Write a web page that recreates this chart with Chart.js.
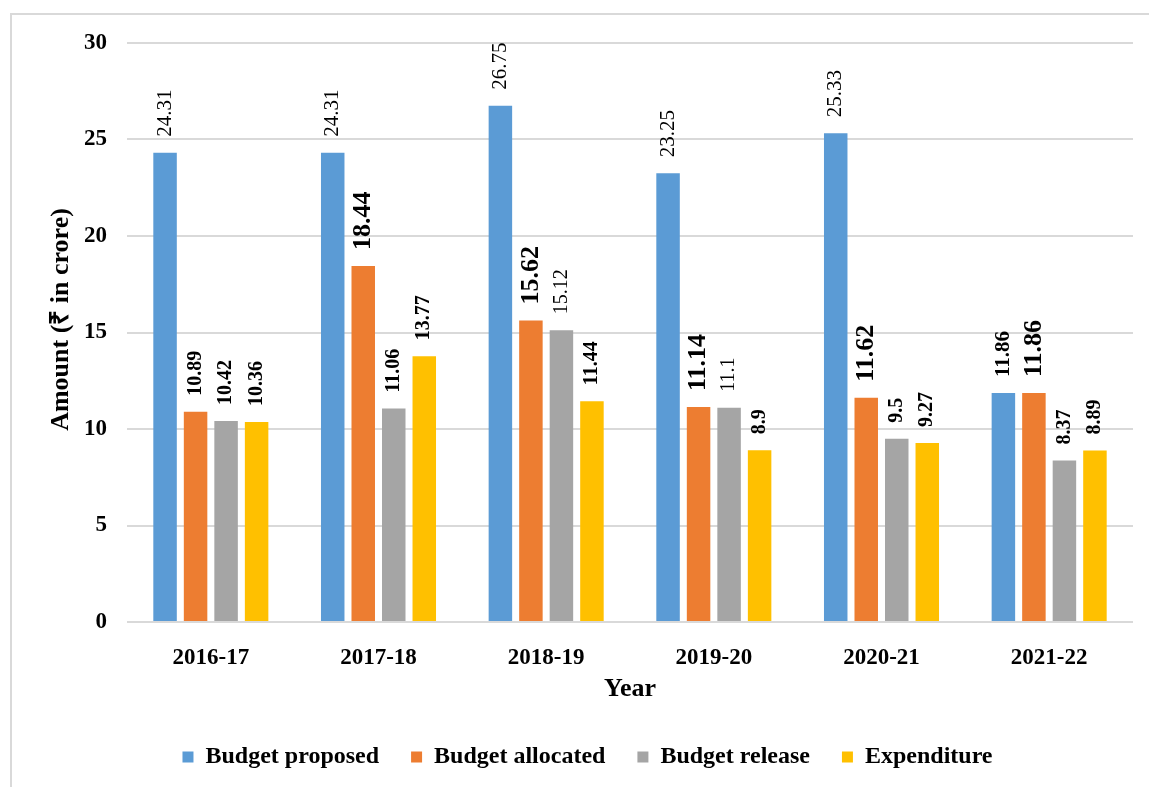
<!DOCTYPE html>
<html lang="en">
<head>
    <meta charset="UTF-8">
    <title>Budget vs Expenditure</title>
    <script src="https://cdn.jsdelivr.net/npm/chart.js"></script>
    <style>
        html, body { margin: 0; padding: 0; background: #fff; overflow: hidden; }
        #wrap { position: relative; width: 1149px; height: 787px; }
        #frame { position: absolute; left: 10px; top: 13px; width: 1200px; height: 900px; border: 2px solid #d9d9d9; box-sizing: border-box; }
        canvas { position: absolute; left: 0; top: 0; }
    </style>
</head>
<body>
<div id="wrap">
    <div id="frame"></div>
    <canvas id="budgetChart" width="1149" height="787"></canvas>
</div>

<script>
    // Data
    const years = ['2016-17', '2017-18', '2018-19', '2019-20', '2020-21', '2021-22'];
    const budgetProposed = [24.31, 24.31, 26.75, 23.25, 25.33, 11.86];
    const budgetAllocated = [10.89, 18.44, 15.62, 11.14, 11.62, 11.86];
    const budgetRelease = [10.42, 11.06, 15.12, 11.1, 9.5, 8.37];
    const expenditure = [10.36, 13.77, 11.44, 8.9, 9.27, 8.89];
    const yTicks = [0, 5, 10, 15, 20, 25, 30];
    const yTitle = 'Amount (₹ in crore)';

    const serif = '"Liberation Serif", "Times New Roman", serif';

    // label look per series (size, weight), kept apart from the values
    const labelStyle = [
        { size: [21, 21, 21, 21, 21, 21], weight: ['normal', 'normal', 'normal', 'normal', 'normal', 'bold'] },
        { size: [20, 26, 26, 26, 26, 26], weight: ['bold', 'bold', 'bold', 'bold', 'bold', 'bold'] },
        { size: [20, 20, 20, 20, 20, 20], weight: ['bold', 'bold', 'normal', 'normal', 'bold', 'bold'] },
        { size: [20, 20, 20, 20, 20, 20], weight: ['bold', 'bold', 'bold', 'bold', 'bold', 'bold'] }
    ];

    // rotated value labels above each bar
    const barLabels = {
        id: 'barLabels',
        afterDatasetsDraw(chart) {
            const ctx = chart.ctx;
            chart.data.datasets.forEach((ds, i) => {
                const meta = chart.getDatasetMeta(i);
                meta.data.forEach((bar, j) => {
                    const st = labelStyle[i];
                    ctx.save();
                    ctx.font = st.weight[j] + ' ' + st.size[j] + 'px ' + serif;
                    ctx.fillStyle = '#000';
                    ctx.textAlign = 'left';
                    ctx.textBaseline = 'middle';
                    ctx.translate(bar.x, bar.y - 16);
                    ctx.rotate(-Math.PI / 2);
                    ctx.fillText(String(ds.data[j]), 0, 0);
                    ctx.restore();
                });
            });
        }
    };

    // y axis title, sits a little above the middle of the axis like the original
    const yAxisTitle = {
        id: 'yAxisTitle',
        afterDraw(chart) {
            const ctx = chart.ctx;
            const area = chart.chartArea;
            ctx.save();
            ctx.font = 'bold 26px ' + serif;
            ctx.fillStyle = '#000';
            ctx.textAlign = 'center';
            ctx.textBaseline = 'middle';
            ctx.translate(61, (area.top + area.bottom) / 2 - 13);
            ctx.rotate(-Math.PI / 2);
            ctx.fillText(yTitle, 0, 0);
            ctx.restore();
        }
    };

    const ctx = document.getElementById('budgetChart').getContext('2d');
    new Chart(ctx, {
        type: 'bar',
        data: {
            labels: years,
            datasets: [
                { label: 'Budget proposed', data: budgetProposed, backgroundColor: '#5B9BD5' },
                { label: 'Budget allocated', data: budgetAllocated, backgroundColor: '#ED7D31' },
                { label: 'Budget release', data: budgetRelease, backgroundColor: '#A5A5A5' },
                { label: 'Expenditure', data: expenditure, backgroundColor: '#FFC000' }
            ]
        },
        options: {
            responsive: false,
            animation: false,
            devicePixelRatio: 1,
            categoryPercentage: 0.728,
            barPercentage: 0.77,
            layout: { padding: { left: 42, right: 16, top: 43, bottom: 8 } },
            plugins: {
                tooltip: { enabled: false },
                legend: {
                    position: 'bottom',
                    maxHeight: 66,
                    labels: {
                        boxWidth: 11,
                        boxHeight: 11,
                        padding: 32,
                        color: '#000',
                        font: { family: serif, size: 24, weight: 'bold' }
                    }
                }
            },
            scales: {
                x: {
                    grid: { display: false },
                    border: { display: false },
                    ticks: {
                        color: '#000',
                        padding: 14,
                        font: { family: serif, size: 23, weight: 'bold' }
                    },
                    title: {
                        display: true,
                        text: 'Year',
                        color: '#000',
                        padding: { top: 0, bottom: 8 },
                        font: { family: serif, size: 26, weight: 'bold' }
                    },
                    afterFit(scale) { scale.height = 91; }
                },
                y: {
                    min: 0,
                    max: 30,
                    border: { display: false },
                    grid: { color: '#d9d9d9', lineWidth: 2, drawTicks: false },
                    afterBuildTicks(scale) { scale.ticks = yTicks.map(v => ({ value: v })); },
                    ticks: {
                        color: '#000',
                        padding: 20,
                        font: { family: serif, size: 23, weight: 'bold' }
                    },
                    afterFit(scale) { scale.width = 85; }
                }
            }
        },
        plugins: [barLabels, yAxisTitle]
    });
</script>
</body>
</html>
